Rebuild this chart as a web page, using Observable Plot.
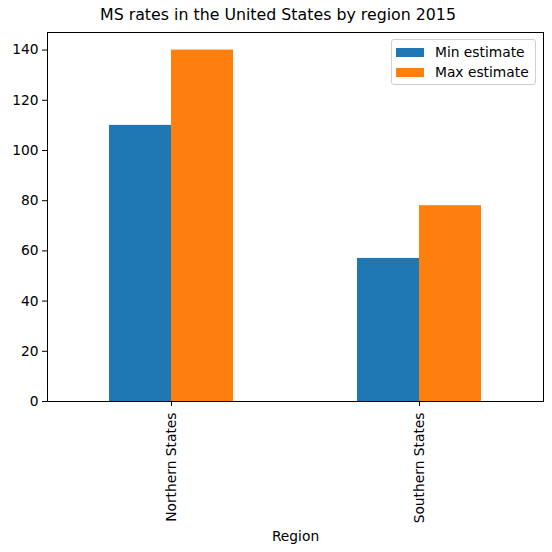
<!DOCTYPE html>
<html><head><meta charset="utf-8">
<script src="https://cdn.jsdelivr.net/npm/d3@7"></script>
<script src="https://cdn.jsdelivr.net/npm/@observablehq/plot@0.6"></script>
<style>
body{margin:0;background:#fff;font-family:"DejaVu Sans",sans-serif;}
#wrap{position:relative;width:552px;height:552px;overflow:hidden;}
#title{position:relative;left:78px;width:400px;text-align:center;font-size:15.8px;color:#000;padding-top:6px;box-sizing:content-box;height:18px;line-height:18px;white-space:nowrap;}
#legend{position:absolute;left:391px;top:39px;width:143px;height:44px;border:1px solid #d0d0d0;border-radius:3px;background:rgba(255,255,255,0.8);font-size:13.8px;color:#000;}
.item{position:absolute;left:4px;height:20px;line-height:20px;white-space:nowrap;}
.sw{display:inline-block;width:28px;height:9px;vertical-align:middle;margin-right:11px;position:relative;top:-1px;}
</style></head>
<body>
<div id="wrap">
<div id="title">MS rates in the United States by region 2015</div>
<div id="chart"></div>
<div id="legend"></div>
</div>
<script>
const regions = ["Northern States", "Southern States"];
const series = ["Min estimate", "Max estimate"];
const minEstimate = [110, 57];
const maxEstimate = [140, 78];
const colors = ["#1f77b4", "#ff7f0e"];
const yTicks = [0, 20, 40, 60, 80, 100, 120, 140];
const yMax = 147;
const xLabel = "Region";

const table = regions.flatMap((r, i) => [
  {region: r, series: series[0], value: minEstimate[i]},
  {region: r, series: series[1], value: maxEstimate[i]}
]);

const chart = Plot.plot({
  width: 552, height: 528,
  marginLeft: 46, marginRight: 9, marginTop: 8, marginBottom: 151,
  style: {fontFamily: "DejaVu Sans", fontSize: "13.8px", color: "#000", background: "#fff", overflow: "visible"},
  fx: {domain: regions, paddingInner: 0, paddingOuter: 0, label: null},
  x: {domain: series, paddingInner: 0, paddingOuter: 1, axis: null},
  y: {domain: [0, yMax], label: null},
  color: {domain: series, range: colors},
  marks: [
    Plot.barY(table, {fx: "region", x: "series", y: "value", fill: "series"}),
    Plot.frame({facet: "super", stroke: "#000"}),
    Plot.axisY({ticks: yTicks, tickSize: 5, tickPadding: 4, label: null}),
    Plot.axisFx({anchor: "bottom", tickRotate: -90, tickSize: 5, tickPadding: 6, label: xLabel, labelAnchor: "center", labelOffset: 139})
  ]
});
document.getElementById("chart").appendChild(chart);

const lg = document.getElementById("legend");
series.forEach((s, i) => {
  const d = document.createElement("div");
  d.className = "item";
  d.style.top = (2 + i * 20) + "px";
  d.innerHTML = `<span class="sw" style="background:${colors[i]}"></span>${s}`;
  lg.appendChild(d);
});
</script>
</body></html>
